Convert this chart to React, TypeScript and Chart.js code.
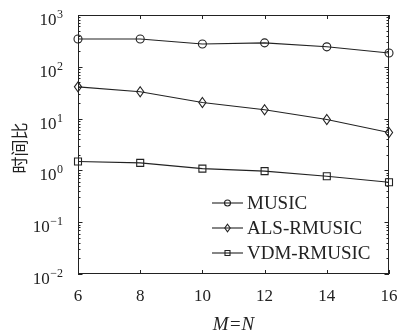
import React, { useEffect, useRef } from "react";
import { Chart, registerables } from "chart.js";

Chart.register(...registerables);

const categories = [6, 8, 10, 12, 14, 16];
const musicValues = [345, 345, 275, 290, 243, 185];
const alsValues = [41, 33, 20.5, 14.8, 9.6, 5.4];
const vdmValues = [1.49, 1.4, 1.08, 0.97, 0.77, 0.59];
const seriesNames = ["MUSIC", "ALS-RMUSIC", "VDM-RMUSIC"];
const seriesStyles = ["circle", "rectRot", "rect"];
const yTickValues = [0.01, 0.1, 1, 10, 100, 1000];
const yTickBase = "10";
const yTickExponents = ["−2", "−1", "0", "1", "2", "3"];
const xTickValues = [6, 8, 10, 12, 14, 16];
const yTitle = "时间比";
const xTitle = "M=N";

const INK = "#222";
const SERIF = "'Liberation Serif', 'DejaVu Serif', serif";

function drawMarker(ctx: CanvasRenderingContext2D, style: string, x: number, y: number, r: number) {
  ctx.beginPath();
  if (style === "circle") {
    ctx.arc(x, y, r, 0, Math.PI * 2);
  } else if (style === "rectRot") {
    ctx.moveTo(x, y - r * 1.25);
    ctx.lineTo(x + r * 0.9, y);
    ctx.lineTo(x, y + r * 1.25);
    ctx.lineTo(x - r * 0.9, y);
    ctx.closePath();
  } else {
    ctx.rect(x - r, y - r, 2 * r, 2 * r);
  }
  ctx.stroke();
}

const framePlugin = {
  id: "frame",
  afterDraw(chart: any) {
    const { ctx, chartArea, scales } = chart;
    const { left, right, top, bottom } = chartArea;
    const x = scales.x;
    const y = scales.y;
    ctx.save();
    ctx.strokeStyle = INK;
    ctx.lineWidth = 1;
    ctx.strokeRect(left + 0.5, top + 0.5, right - left - 1, bottom - top - 1);
    xTickValues.forEach((v) => {
      const px = Math.round(x.getPixelForValue(v)) + 0.5;
      ctx.beginPath();
      ctx.moveTo(px, bottom);
      ctx.lineTo(px, bottom - 4);
      ctx.moveTo(px, top);
      ctx.lineTo(px, top + 4);
      ctx.stroke();
    });
    for (let e = -2; e <= 3; e++) {
      for (let m = 1; m <= 9; m++) {
        const v = m * Math.pow(10, e);
        if (v > 1000) break;
        const py = Math.round(y.getPixelForValue(v)) + 0.5;
        const len = m === 1 ? 4.5 : 2.5;
        ctx.beginPath();
        ctx.moveTo(left, py);
        ctx.lineTo(left + len, py);
        ctx.moveTo(right, py);
        ctx.lineTo(right - len, py);
        ctx.stroke();
      }
    }
    // y tick labels: base + superscript exponent
    ctx.fillStyle = INK;
    ctx.textBaseline = "alphabetic";
    ctx.textAlign = "left";
    const rightEdge = left - 15;
    yTickValues.forEach((v, i) => {
      const py = y.getPixelForValue(v);
      ctx.font = "12px " + SERIF;
      const ew = ctx.measureText(yTickExponents[i]).width;
      ctx.font = "17px " + SERIF;
      const bw = ctx.measureText(yTickBase).width;
      const bx = rightEdge - ew - bw - 0.5;
      ctx.fillText(yTickBase, bx, py + 10);
      ctx.font = "12px " + SERIF;
      ctx.fillText(yTickExponents[i], bx + bw + 0.5, py + 3);
    });
    // axis titles
    ctx.font = "italic 19px " + SERIF;
    ctx.textAlign = "center";
    ctx.textBaseline = "middle";
    ctx.fillText(xTitle, (left + right) / 2, 325);
    ctx.translate(20, 148);
    ctx.rotate(-Math.PI / 2);
    ctx.font = "17px 'Noto Sans CJK SC', sans-serif";
    ctx.fillText(yTitle, 0, 0);
    ctx.restore();

    ctx.save();
    ctx.strokeStyle = INK;
    ctx.fillStyle = INK;
    ctx.lineWidth = 1.1;
    ctx.font = "19px " + SERIF;
    ctx.textAlign = "left";
    ctx.textBaseline = "middle";
    const ys = [203, 228, 253];
    seriesNames.forEach((name, i) => {
      const yy = ys[i];
      ctx.beginPath();
      ctx.moveTo(212, yy);
      ctx.lineTo(243, yy);
      ctx.stroke();
      drawMarker(ctx, seriesStyles[i], 227.5, yy, seriesStyles[i] === "rect" ? 2.5 : 3);
      ctx.fillText(name, 247, yy + 1);
    });
    ctx.restore();
  },
};

const markerPlugin = {
  id: "markers",
  afterDatasetsDraw(chart: any) {
    const { ctx } = chart;
    ctx.save();
    ctx.strokeStyle = INK;
    ctx.lineWidth = 1.1;
    chart.data.datasets.forEach((ds: any, i: number) => {
      const meta = chart.getDatasetMeta(i);
      meta.data.forEach((pt: any) => {
        drawMarker(ctx, seriesStyles[i], pt.x, pt.y, seriesStyles[i] === "rect" ? 3.5 : 4);
      });
    });
    ctx.restore();
  },
};

export default function App() {
  const ref = useRef<HTMLCanvasElement>(null);
  useEffect(() => {
    document.body.style.margin = "0";
    const ctx = ref.current!;
    const mk = (label: string, data: number[]) => ({
      label,
      data: categories.map((c, i) => ({ x: c, y: data[i] })),
      borderColor: INK,
      borderWidth: 1.1,
      pointRadius: 0,
      fill: false,
      tension: 0,
    });
    const chart = new Chart(ctx, {
      type: "line",
      data: {
        datasets: [
          mk(seriesNames[0], musicValues),
          mk(seriesNames[1], alsValues),
          mk(seriesNames[2], vdmValues),
        ],
      },
      options: {
        animation: false,
        responsive: false,
        layout: { padding: { top: 15, right: 11, left: 0, bottom: 0 } },
        plugins: { legend: { display: false }, tooltip: { enabled: false } },
        scales: {
          x: {
            type: "linear",
            min: 6,
            max: 16,
            afterBuildTicks: (s: any) => {
              s.ticks = xTickValues.map((v) => ({ value: v }));
            },
            afterFit: (s: any) => {
              s.height = 59;
              s.paddingLeft = 0;
              s.paddingRight = 0;
            },
            ticks: {
              color: INK,
              font: { family: SERIF, size: 17 },
              padding: 12,
              maxRotation: 0,
            },
            grid: { display: false, drawTicks: false },
            border: { display: false },
          },
          y: {
            type: "logarithmic",
            min: 0.01,
            max: 1000,
            afterBuildTicks: (s: any) => {
              s.ticks = yTickValues.map((v) => ({ value: v }));
            },
            afterFit: (s: any) => {
              s.width = 78;
              s.paddingTop = 0;
              s.paddingBottom = 0;
            },
            ticks: { display: false },
            grid: { display: false, drawTicks: false },
            border: { display: false },
          },
        },
      },
      plugins: [markerPlugin, framePlugin],
    } as any);
    return () => chart.destroy();
  }, []);
  return (
    <div style={{ width: 400, height: 333, background: "#fff" }}>
      <canvas ref={ref} width={400} height={333} style={{ width: 400, height: 333, display: "block" }} />
    </div>
  );
}
